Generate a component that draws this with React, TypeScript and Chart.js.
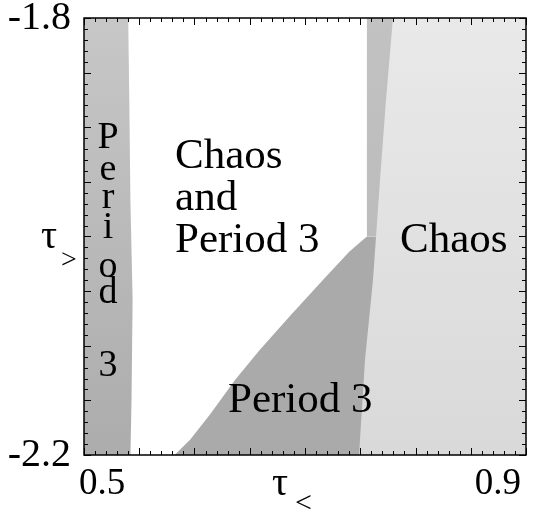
import React, { useEffect, useRef } from 'react';
import { Chart, registerables } from 'chart.js';

Chart.register(...registerables);

// Axis ranges and tick labels
const X_MIN = 0.5;
const X_MAX = 0.9;
const Y_MIN = -2.2;
const Y_MAX = -1.8;
const X_TICK_LABELS = [0.5, 0.9];
const Y_TICK_LABELS = [-2.2, -1.8];
const MINOR_STEP = 0.01;
const MAJOR_EVERY = 5;

// Region boundaries: right-hand edge x(tau>) of each region, read top to bottom
const CHAOS_EDGE_Y = [-1.8, -2.2];
const CHAOS_EDGE_X = [0.9, 0.9];

const BAND_EDGE_Y = [-1.8, -1.875, -1.948, -2.0];
const BAND_EDGE_X = [0.7796, 0.7733, 0.7679, 0.7643];

const P3_EDGE_Y = [-2.0, -2.04, -2.113, -2.2];
const P3_EDGE_X = [0.7643, 0.7615, 0.7543, 0.7489];

const MIXED_EDGE_Y = [-1.8, -2.0, -2.014, -2.04, -2.072, -2.104, -2.131, -2.163, -2.186, -2.2];
const MIXED_EDGE_X = [0.756, 0.756, 0.74, 0.716, 0.687, 0.659, 0.637, 0.614, 0.596, 0.582];

const STRIP_EDGE_Y = [-1.8, -1.875, -1.967, -2.058, -2.15, -2.2];
const STRIP_EDGE_X = [0.54, 0.541, 0.542, 0.544, 0.543, 0.542];

const SERIF = "'Liberation Serif', 'Times New Roman', serif";

const toPoints = (xs: number[], ys: number[]) => ys.map((y, i) => ({ x: xs[i], y }));

const grad = (top: string, bottom: string, fallback: string) => (c: any) => {
  const chart = c.chart;
  const a = chart.chartArea;
  if (!a) return fallback;
  const g = chart.ctx.createLinearGradient(0, a.top, 0, a.bottom);
  g.addColorStop(0, top);
  g.addColorStop(1, bottom);
  return g;
};

const region = (label: string, xs: number[], ys: number[], color: any, order: number) => ({
  label,
  data: toPoints(xs, ys),
  backgroundColor: color,
  borderColor: 'rgba(0,0,0,0)',
  borderWidth: 0,
  pointRadius: 0,
  tension: 0,
  fill: { value: X_MIN },
  order,
});

const overlayPlugin = {
  id: 'overlay',
  afterDatasetsDraw(chart: any) {
    const { ctx, chartArea: a } = chart;
    const xs = chart.scales.x;
    const ys = chart.scales.y;
    ctx.save();
    // inward tick marks on all four sides
    ctx.strokeStyle = '#000';
    ctx.lineWidth = 1;
    ctx.beginPath();
    const nx = Math.round((X_MAX - X_MIN) / MINOR_STEP);
    for (let k = 0; k <= nx; k++) {
      const px = Math.round(xs.getPixelForValue(X_MIN + k * MINOR_STEP)) + 0.5;
      const len = k % MAJOR_EVERY === 0 ? 7 : 4;
      ctx.moveTo(px, a.bottom);
      ctx.lineTo(px, a.bottom - len);
      ctx.moveTo(px, a.top);
      ctx.lineTo(px, a.top + len);
    }
    const ny = Math.round((Y_MAX - Y_MIN) / MINOR_STEP);
    for (let k = 0; k <= ny; k++) {
      const py = Math.round(ys.getPixelForValue(Y_MIN + k * MINOR_STEP)) + 0.5;
      const len = k % MAJOR_EVERY === 0 ? 7 : 4;
      ctx.moveTo(a.left, py);
      ctx.lineTo(a.left + len, py);
      ctx.moveTo(a.right, py);
      ctx.lineTo(a.right - len, py);
    }
    ctx.stroke();
    ctx.lineWidth = 1.5;
    ctx.strokeRect(a.left, a.top, a.right - a.left, a.bottom - a.top);

    // region labels
    ctx.fillStyle = '#000';
    ctx.textBaseline = 'alphabetic';
    ctx.textAlign = 'left';
    ctx.font = `43px ${SERIF}`;
    const X = (v: number) => xs.getPixelForValue(v);
    const Y = (v: number) => ys.getPixelForValue(v);
    const mx = X(0.5824);
    const my = Y(-1.9372);
    ['Chaos', 'and', 'Period 3'].forEach((t, i) => ctx.fillText(t, mx, my + i * 42));
    ctx.fillText('Chaos', X(0.786), Y(-2.014));
    ctx.fillText('Period 3', X(0.6303), Y(-2.1605));

    // vertical "Period 3" in the left strip
    ctx.textAlign = 'center';
    ctx.font = `38px ${SERIF}`;
    const vx = X(0.5217);
    const letters = ['P', 'e', 'r', 'i', 'o', 'd', '3'];
    const vyVals = [-1.919, -1.948, -1.974, -2.001, -2.037, -2.061, -2.128];
    letters.forEach((ch, i) => ctx.fillText(ch, vx, Y(vyVals[i])));
    ctx.restore();
  },
  afterDraw(chart: any) {
    const { ctx, chartArea: a } = chart;
    ctx.save();
    ctx.fillStyle = '#000';
    ctx.textAlign = 'left';
    ctx.textBaseline = 'alphabetic';
    // x axis title: tau with subscript <
    const cx = (a.left + a.right) / 2;
    ctx.font = `40px ${SERIF}`;
    ctx.fillText('τ', cx - 33, 495);
    ctx.font = `30px ${SERIF}`;
    ctx.fillText('<', cx - 10, 512);
    // y axis title: tau with subscript >
    const cy = (a.top + a.bottom) / 2;
    ctx.font = `40px ${SERIF}`;
    ctx.fillText('τ', 41, cy + 11);
    ctx.font = `28px ${SERIF}`;
    ctx.fillText('>', 61, cy + 31);
    ctx.restore();
  },
};

export default function App() {
  const canvasRef = useRef<HTMLCanvasElement | null>(null);

  useEffect(() => {
    const canvas = canvasRef.current;
    if (!canvas) return;
    const chart = new Chart(canvas, {
      type: 'line',
      data: {
        datasets: [
          region('Period 3 (left)', STRIP_EDGE_X, STRIP_EDGE_Y, grad('#c7c7c7', '#acacac', '#bbbbbb'), 1),
          region('Chaos and Period 3', MIXED_EDGE_X, MIXED_EDGE_Y, '#ffffff', 2),
          region('Period 3', P3_EDGE_X, P3_EDGE_Y, '#aaaaaa', 3),
          region('Period 3 band', BAND_EDGE_X, BAND_EDGE_Y, grad('#c2c2c2', '#b6b6b6', '#bcbcbc'), 4),
          region('Chaos', CHAOS_EDGE_X, CHAOS_EDGE_Y, grad('#e9e9e9', '#d9d9d9', '#e2e2e2'), 5),
        ] as any,
      },
      options: {
        indexAxis: 'y',
        animation: false,
        responsive: false,
        maintainAspectRatio: false,
        devicePixelRatio: 1,
        layout: { padding: { top: 18, right: 15, left: 0, bottom: 0 } },
        plugins: { legend: { display: false }, tooltip: { enabled: false } },
        scales: {
          x: {
            type: 'linear',
            position: 'bottom',
            min: X_MIN,
            max: X_MAX,
            grid: { display: false, drawTicks: false },
            border: { display: false },
            afterBuildTicks: (s: any) => {
              s.ticks = X_TICK_LABELS.map((v) => ({ value: v }));
            },
            ticks: {
              autoSkip: false,
              maxRotation: 0,
              align: 'inner',
              labelOffset: -5,
              padding: 7,
              color: '#000',
              font: { family: SERIF, size: 37 },
              callback: (v: any) => Number(v).toFixed(1),
            },
            afterFit: (s: any) => {
              s.height = 55;
              s.paddingLeft = 0;
              s.paddingRight = 0;
            },
          },
          y: {
            type: 'linear',
            position: 'left',
            min: Y_MIN,
            max: Y_MAX,
            grid: { display: false, drawTicks: false },
            border: { display: false },
            afterBuildTicks: (s: any) => {
              s.ticks = Y_TICK_LABELS.map((v) => ({ value: v }));
            },
            ticks: {
              autoSkip: false,
              padding: 13,
              color: '#000',
              font: { family: SERIF, size: 40 },
              callback: (v: any) => Number(v).toFixed(1),
            },
            afterFit: (s: any) => {
              s.width = 84;
              s.paddingTop = 0;
              s.paddingBottom = 0;
            },
          },
        },
      } as any,
      plugins: [overlayPlugin],
    });
    return () => chart.destroy();
  }, []);

  return (
    <div style={{ position: 'absolute', left: 0, top: 0, width: 541, height: 510, background: '#fff' }}>
      <canvas ref={canvasRef} width={541} height={510} style={{ display: 'block' }} />
    </div>
  );
}
